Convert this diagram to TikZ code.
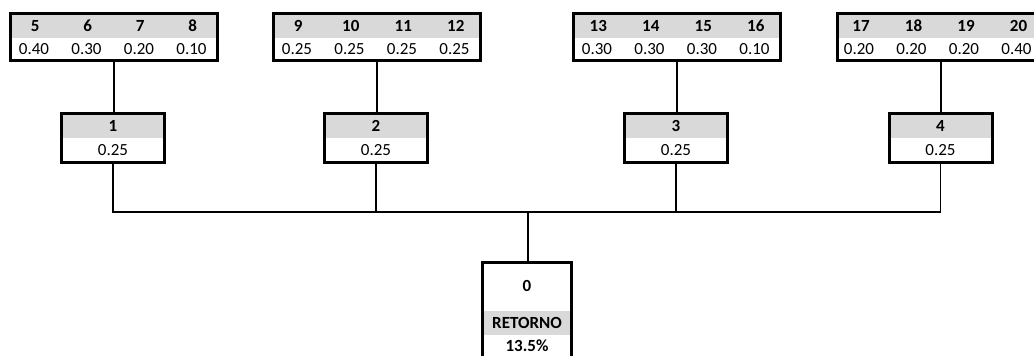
\documentclass[tikz,border=0pt]{standalone}
\usepackage{fontspec}
\setmainfont{Carlito}[Numbers=Lining]
\definecolor{hdrgray}{HTML}{D9D9D9}
\begin{document}
\begin{tikzpicture}[x=1pt,y=-1pt,
  txt/.style={inner sep=0pt, anchor=base, font=\fontsize{17}{19}\selectfont},
  hdr/.style={inner sep=0pt, anchor=base, font=\fontsize{17}{19}\selectfont\bfseries},
  frame/.style={draw, line width=3pt, rectangle, inner sep=0pt},
  topbox/.style={frame, minimum width=207pt, minimum height=47pt,
    path picture={\fill[hdrgray] (path picture bounding box.north west) rectangle ([yshift=-24.5pt]path picture bounding box.north east);}},
  smallbox/.style={frame, minimum width=103pt, minimum height=49pt,
    path picture={\fill[hdrgray] (path picture bounding box.north west) rectangle ([yshift=-24pt]path picture bounding box.north east);}},
  rootbox/.style={frame, minimum width=89pt, minimum height=118pt,
    path picture={\fill[hdrgray] ([yshift=-48.5pt]path picture bounding box.north west) rectangle ([yshift=-72.5pt]path picture bounding box.north east);}},
  conn/.style={line width=1.4pt}
]
\useasboundingbox (0,0) rectangle (1034,356);
\clip (0,0) rectangle (1034,356);

% top boxes
\node[topbox] (tA) at (114,37) {};
\foreach \h/\v [count=\i] in {5/0.40,6/0.30,7/0.20,8/0.10}{
  \node[hdr] (tA-h\i) at (114-131.25+52.5*\i,31) {\h};
  \node[txt] (tA-v\i) at (114-132.5+52.5*\i,54.5) {\v};
}
\node[topbox] (tB) at (377,37) {};
\foreach \h/\v [count=\i] in {9/0.25,10/0.25,11/0.25,12/0.25}{
  \node[hdr] (tB-h\i) at (377-131.25+52.5*\i,31) {\h};
  \node[txt] (tB-v\i) at (377-132.5+52.5*\i,54.5) {\v};
}
\node[topbox] (tC) at (677,37) {};
\foreach \h/\v [count=\i] in {13/0.30,14/0.30,15/0.30,16/0.10}{
  \node[hdr] (tC-h\i) at (677-131.25+52.5*\i,31) {\h};
  \node[txt] (tC-v\i) at (677-132.5+52.5*\i,54.5) {\v};
}
\node[topbox] (tD) at (941,37) {};
\foreach \h/\v [count=\i] in {17/0.20,18/0.20,19/0.20,20/0.40}{
  \node[hdr] (tD-h\i) at (941-132.5+52.5*\i,31) {\h};
  \node[txt] (tD-v\i) at (941-134.5+52.5*\i,54.5) {\v};
}

% middle boxes
\foreach \n/\cx in {1/113,2/376,3/676,4/940.5}{
  \node[smallbox] (b\n) at (\cx,138) {};
  \node[hdr] (b\n-h) at (\cx,131.5) {\n};
  \node[txt] (b\n-v) at (\cx,155.5) {0.25};
}

% root box
\node[rootbox] (b0) at (527,321.5) {};
\node[hdr] (b0-h) at (527,291.5) {0};
\node[hdr] (b0-r) at (527,328.5) {RETORNO};
\node[hdr] (b0-v) at (527,351.5) {13.5\%};

% connectors
\coordinate (j) at (528,212);
\draw[conn] (tA.south) -- (tA.south |- b1.north);
\draw[conn] (tB.south) -- (tB.south |- b2.north);
\draw[conn] (tC.south) -- (tC.south |- b3.north);
\draw[conn] (tD.south) -- (tD.south |- b4.north);
\draw[conn] (b1.south) |- (j) -| (b4.south);
\draw[conn] (b2.south) -- (b2.south |- j);
\draw[conn] (b3.south) -- (b3.south |- j);
\draw[conn] (j) -- (j |- b0.north);
\end{tikzpicture}
\end{document}
